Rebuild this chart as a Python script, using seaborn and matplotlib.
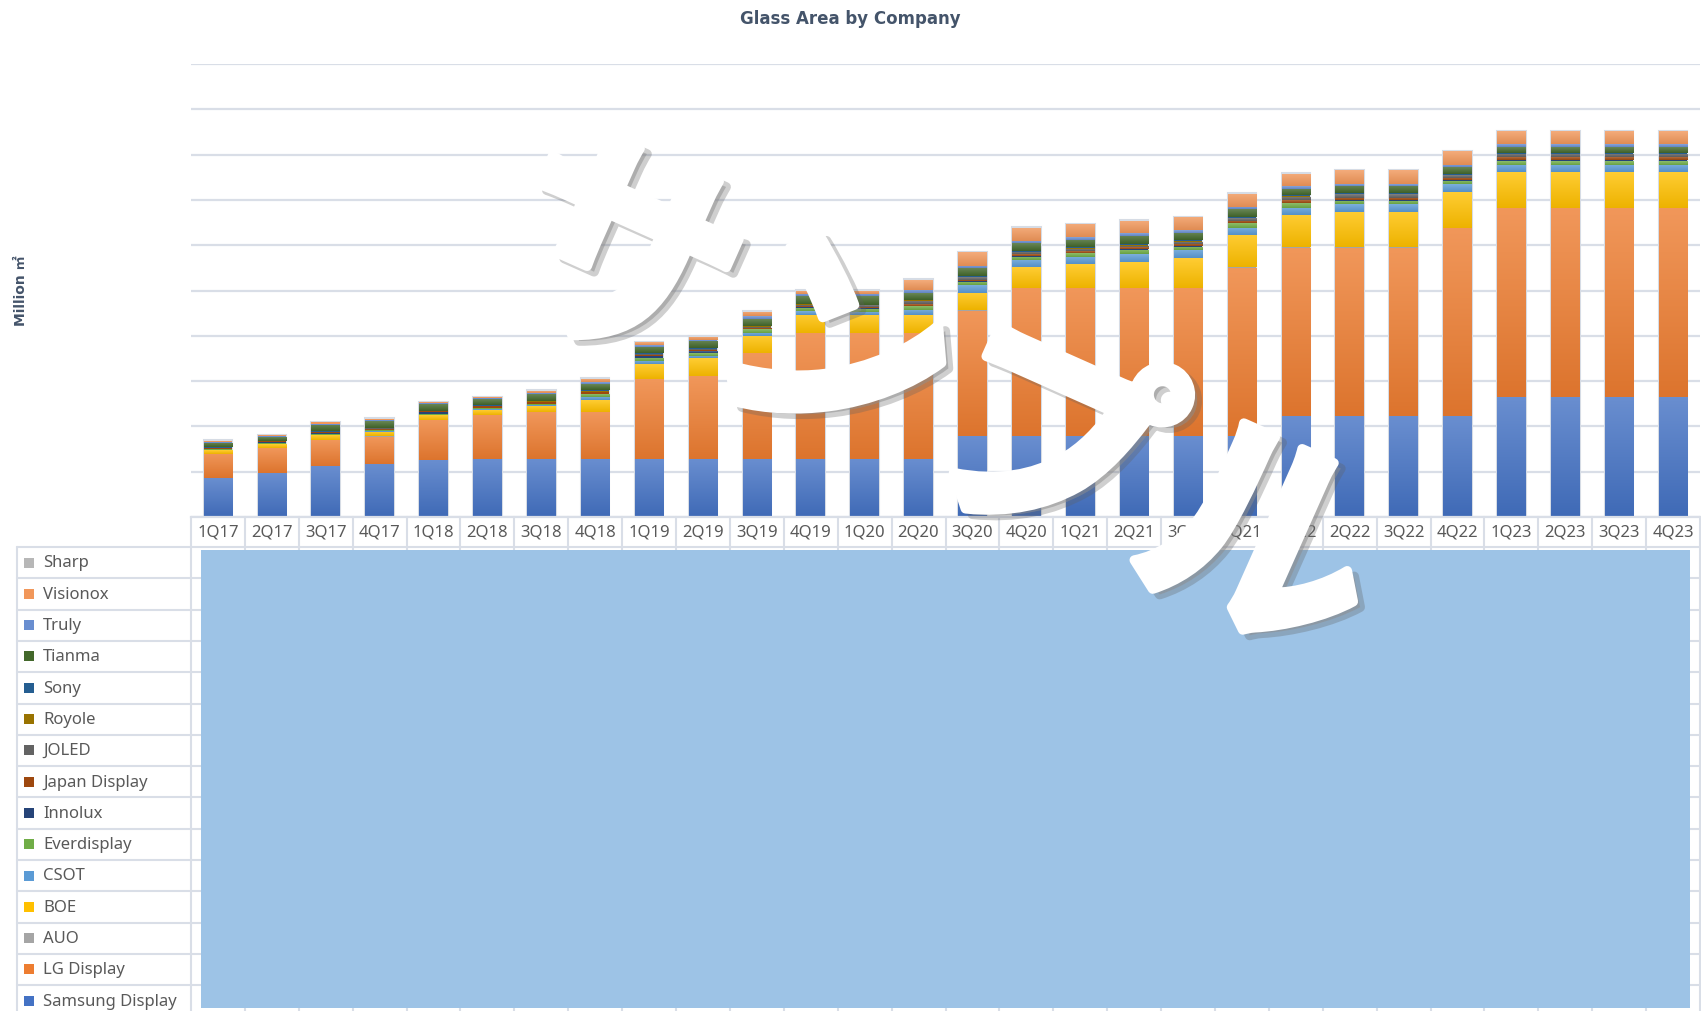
import matplotlib
matplotlib.use('Agg')
import matplotlib.pyplot as plt
import matplotlib.patheffects as pe
import matplotlib.transforms as mtransforms
from matplotlib.colors import to_rgb
from matplotlib.lines import Line2D
from matplotlib.patches import Rectangle
import seaborn as sns
import numpy as np
import pandas as pd

# quarters on the x axis
quarters = ['1Q17', '2Q17', '3Q17', '4Q17', '1Q18', '2Q18', '3Q18', '4Q18',
            '1Q19', '2Q19', '3Q19', '4Q19', '1Q20', '2Q20', '3Q20', '4Q20',
            '1Q21', '2Q21', '3Q21', '4Q21', '1Q22', '2Q22', '3Q22', '4Q22',
            '1Q23', '2Q23', '3Q23', '4Q23']

# stack order, bottom to top
companies = ['Samsung Display', 'LG Display', 'AUO', 'BOE', 'CSOT', 'Everdisplay',
             'Innolux', 'Japan Display', 'JOLED', 'Royole', 'Sony', 'Tianma',
             'Truly', 'Visionox', 'Sharp']
colors = ['#4472C4', '#ED7D31', '#A5A5A5', '#FFC000', '#5B9BD5', '#70AD47',
          '#264478', '#9E480E', '#636363', '#997300', '#255E91', '#43682B',
          '#698ED0', '#F1975A', '#B7B7B7']

# glass area (million m2)
samsung = [0.85, 0.97, 1.13, 1.18, 1.26, 1.29, 1.29, 1.29, 1.29, 1.29, 1.29, 1.29, 1.29, 1.29,
           1.78, 1.78, 1.78, 1.78, 1.78, 1.78, 2.22, 2.22, 2.22, 2.22, 2.66, 2.66, 2.66, 2.66]
lg = [0.54, 0.55, 0.57, 0.59, 0.88, 0.96, 1.02, 1.02, 1.75, 1.82, 2.32, 2.77, 2.77, 2.77,
      2.77, 3.27, 3.27, 3.27, 3.27, 3.72, 3.72, 3.72, 3.72, 4.16, 4.16, 4.16, 4.16, 4.16]
auo = [0.01] * 28
boe = [0.07, 0.08, 0.10, 0.10, 0.10, 0.11, 0.13, 0.26, 0.33, 0.39, 0.38, 0.40, 0.38, 0.38,
       0.39, 0.45, 0.52, 0.57, 0.66, 0.71, 0.71, 0.79, 0.79, 0.79, 0.79, 0.79, 0.79, 0.79]
csot = [0.01, 0.01, 0.01, 0.01, 0.01, 0.01, 0.02, 0.07, 0.07, 0.05, 0.07, 0.07, 0.07, 0.12,
        0.17, 0.17, 0.17, 0.17, 0.18, 0.16, 0.17, 0.17, 0.17, 0.17, 0.16, 0.16, 0.16, 0.16]
everdisplay = [0.02, 0.02, 0.02, 0.02, 0.02, 0.02, 0.02, 0.06, 0.07, 0.06, 0.07, 0.08, 0.08, 0.08,
               0.07, 0.07, 0.07, 0.10, 0.07, 0.10, 0.10, 0.07, 0.07, 0.07, 0.08, 0.08, 0.08, 0.08]
innolux = [0.01, 0.01, 0.01, 0.01, 0.03, 0.01, 0.01, 0.01, 0.03, 0.04, 0.01, 0.01, 0.01, 0.01,
           0.01, 0.01, 0.01, 0.01, 0.01, 0.01, 0.01, 0.01, 0.01, 0.02, 0.02, 0.02, 0.02, 0.02]
japan_display = [0.02, 0.02, 0.02, 0.03, 0.02, 0.03, 0.03, 0.03, 0.02, 0.02, 0.03, 0.03, 0.03, 0.04,
                 0.04, 0.04, 0.04, 0.04, 0.05, 0.05, 0.06, 0.06, 0.06, 0.05, 0.06, 0.06, 0.06, 0.06]
joled = [0.00, 0.00, 0.01, 0.01, 0.01, 0.01, 0.01, 0.02, 0.02, 0.02, 0.02, 0.03, 0.03, 0.07,
         0.05, 0.05, 0.05, 0.04, 0.05, 0.05, 0.07, 0.07, 0.07, 0.06, 0.07, 0.07, 0.07, 0.07]
royole = [0.00, 0.00, 0.00, 0.00, 0.00, 0.01, 0.01, 0.02, 0.01, 0.01, 0.01, 0.01, 0.01, 0.01,
          0.01, 0.01, 0.01, 0.01, 0.01, 0.01, 0.01, 0.01, 0.01, 0.01, 0.01, 0.01, 0.01, 0.01]
sony = [0.01, 0.01, 0.01, 0.01, 0.01, 0.01, 0.01, 0.01, 0.01, 0.01, 0.01, 0.01, 0.01, 0.02,
        0.02, 0.02, 0.02, 0.02, 0.02, 0.02, 0.02, 0.02, 0.02, 0.02, 0.02, 0.02, 0.02, 0.02]
tianma = [0.10, 0.08, 0.15, 0.15, 0.14, 0.13, 0.15, 0.13, 0.15, 0.16, 0.15, 0.17, 0.18, 0.15,
          0.17, 0.16, 0.16, 0.18, 0.16, 0.17, 0.14, 0.16, 0.16, 0.14, 0.13, 0.13, 0.13, 0.13]
truly = [0.02, 0.02, 0.02, 0.02, 0.02, 0.02, 0.03, 0.04, 0.04, 0.03, 0.06, 0.05, 0.05, 0.07,
         0.06, 0.06, 0.06, 0.06, 0.06, 0.05, 0.06, 0.04, 0.04, 0.06, 0.06, 0.06, 0.06, 0.06]
visionox = [0.02, 0.02, 0.03, 0.03, 0.02, 0.03, 0.05, 0.08, 0.06, 0.07, 0.10, 0.07, 0.08, 0.22,
            0.29, 0.29, 0.29, 0.28, 0.29, 0.30, 0.28, 0.30, 0.30, 0.29, 0.28, 0.28, 0.28, 0.28]
sharp = [0.01] * 28

series = [samsung, lg, auo, boe, csot, everdisplay, innolux, japan_display, joled,
          royole, sony, tianma, truly, visionox, sharp]

df = pd.DataFrame(dict(zip(companies, series)))
cum = df[companies].cumsum(axis=1)
cum['quarter'] = quarters

W, H = 1701, 1012
grid_c = '#D9DEE7'
text_c = '#595959'
title_c = '#44546A'

sns.set_style('white')
plt.rcParams['font.family'] = ['Noto Sans', 'Noto Sans CJK JP', 'DejaVu Sans']

fig = plt.figure(figsize=(W / 100, H / 100), dpi=100)
ax = fig.add_axes([191 / W, 1 - 518 / H, (1700 - 191) / W, (518 - 65) / H])


def shade(col):
    # light top -> slightly darker bottom, like the office gradient fill
    c = np.array(to_rgb(col))
    top = c + (1 - c) * 0.2
    bot = c * 0.93
    t = np.linspace(0, 1, 64)[:, None]
    return (top * (1 - t) + bot * t)[:, None, :]


# stacked bars: draw running totals from the top layer down
layers = list(zip(companies, colors))
for k in range(len(layers) - 1, -1, -1):
    name, col = layers[k]
    n0 = len(ax.patches)
    top_layer = k == len(layers) - 1
    sns.barplot(data=cum, x='quarter', y=name, color=col, width=0.53, saturation=1,
                errorbar=None, ax=ax, edgecolor='#D6DCE5' if top_layer else 'none',
                linewidth=1.5 if top_layer else 0)
    grad = shade(col)
    lower = cum[companies[k - 1]].values if k > 0 else np.zeros(len(quarters))
    for p in ax.patches[n0:]:
        j = int(round(p.get_x() + p.get_width() / 2))
        if p.get_height() - lower[j] < 0.03:
            continue
        im = ax.imshow(grad, extent=[p.get_x(), p.get_x() + p.get_width(), lower[j], p.get_height()],
                       aspect='auto', interpolation='bilinear', zorder=1)
        im.set_clip_path(p)

ax.set_xlim(-0.5, len(quarters) - 0.5)
ax.set_ylim(0, 10)
ax.set_yticks(np.arange(0, 11, 1))
ax.set_yticklabels([])
ax.yaxis.grid(True, color=grid_c, linewidth=1.6)
ax.set_axisbelow(True)
ax.set_xlabel('')
ax.set_ylabel('')
for s in ['top', 'right', 'left']:
    ax.spines[s].set_visible(False)
ax.spines['bottom'].set_color(grid_c)
ax.spines['bottom'].set_linewidth(1.6)
ax.tick_params(axis='x', length=0, pad=5, labelsize=12, labelcolor=text_c)
ax.tick_params(axis='y', length=0)


# data table under the chart
def px_line(x0, y0, x1, y1):
    fig.add_artist(Line2D([x0 / W, x1 / W], [1 - y0 / H, 1 - y1 / H],
                          transform=fig.transFigure, color=grid_c, lw=1.5, zorder=1))


blend = mtransforms.blended_transform_factory(ax.transData, fig.transFigure)
for k in range(len(quarters) + 1):
    fig.add_artist(Line2D([k - 0.5, k - 0.5], [0, 1 - 518 / H], transform=blend,
                          color=grid_c, lw=1.5, zorder=1))

row_h = 31.3
for i in range(len(companies) + 1):
    y = 548 + i * row_h
    px_line(17, y, 1700, y)
px_line(17, 548, 17, H)

for i, (name, col) in enumerate(zip(companies[::-1], colors[::-1])):
    yc = 563.5 + i * row_h
    fig.add_artist(Rectangle((24 / W, 1 - (yc + 5) / H), 10 / W, 10 / H,
                             transform=fig.transFigure, color=col, lw=0, zorder=2))
    fig.text(43 / W, 1 - yc / H, name, fontsize=12, color=text_c, va='center', ha='left')

# masked table body
fig.add_artist(Rectangle((201 / W, 1 - 1009 / H), (1690 - 201) / W, (1009 - 551) / H,
                         transform=fig.transFigure, color='#9DC3E6', lw=0, zorder=5))

fig.text(850 / W, 1 - 19 / H, 'Glass Area by Company', fontsize=12, weight='bold',
         color=title_c, ha='center', va='center', family=['DejaVu Sans'])
fig.text(21 / W, 1 - 291 / H, 'Million ㎡', fontsize=10, weight='bold', color=title_c,
         rotation=90, ha='center', va='center', family=['DejaVu Sans', 'Noto Sans CJK JP'])

# watermark
fig.text(937 / W, 1 - 408 / H, 'サンプル', fontsize=168, weight='bold', color='white',
         family=['Noto Sans CJK JP'], rotation=-24, rotation_mode='anchor',
         ha='center', va='center', zorder=10,
         path_effects=[pe.Stroke(linewidth=7, foreground='#606060', offset=(5, -4), alpha=0.3),
                       pe.withSimplePatchShadow(offset=(5, -4), shadow_rgbFace='#606060', alpha=0.3),
                       pe.Stroke(linewidth=7, foreground='white'), pe.Normal()])

fig.savefig('out.png', dpi=100)
